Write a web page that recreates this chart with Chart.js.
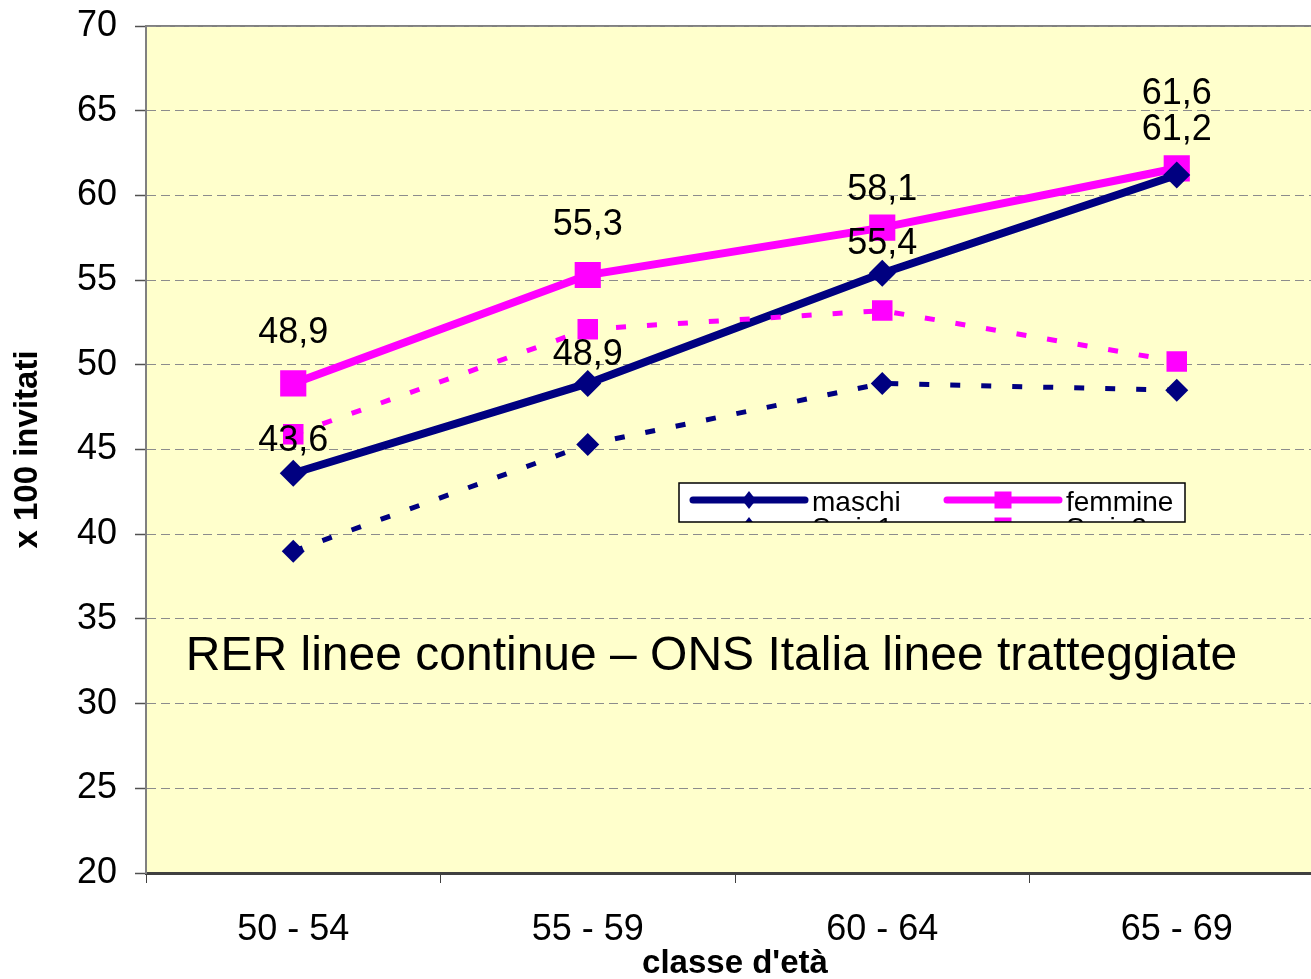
<!DOCTYPE html>
<html>
<head>
<meta charset="utf-8">
<script src="https://cdn.jsdelivr.net/npm/chart.js@4.4.1/dist/chart.umd.min.js"></script>
<style>
html, body { margin: 0; padding: 0; overflow: hidden; background: #ffffff; width: 1311px; height: 979px; }
#wrap { position: absolute; left: 0; top: 0; width: 1324px; height: 979px; }
canvas { display: block; }
</style>
</head>
<body>
<div id="wrap"><canvas id="c" width="1324" height="979"></canvas></div>
<script>
// ---- data ----
const categories = ['50 - 54', '55 - 59', '60 - 64', '65 - 69'];
const maschiRER = [43.6, 48.9, 55.4, 61.2];
const femmineRER = [48.9, 55.3, 58.1, 61.6];
const maschiONS = [39.0, 45.3, 48.9, 48.5];
const femmineONS = [45.9, 52.1, 53.2, 50.2];
const seriesNames = ['maschi', 'femmine', 'Serie1', 'Serie2'];
const yMin = 20, yMax = 70, yStep = 5;
const xTitle = "classe d'età";
const yTitle = 'x 100 invitati';
const noteText = 'RER linee continue \u2013 ONS Italia linee tratteggiate';

const FONT = '"Liberation Sans", Arial, sans-serif';
const NAVY = '#000080';
const MAGENTA = '#FF00FF';

const fmt = v => v.toFixed(1).replace('.', ',');

// plot background and frame
const bgPlugin = {
  id: 'bg',
  beforeDraw(chart) {
    const {ctx, chartArea: a} = chart;
    ctx.save();
    ctx.fillStyle = '#FFFFCC';
    ctx.fillRect(a.left, a.top, a.right - a.left, a.bottom - a.top);
    ctx.strokeStyle = '#808080';
    ctx.lineWidth = 2;
    ctx.beginPath();
    ctx.moveTo(a.left, a.top);
    ctx.lineTo(a.right, a.top);
    ctx.stroke();
    ctx.restore();
  }
};

// note text inside the plot
const notePlugin = {
  id: 'note',
  beforeDatasetsDraw(chart, args, opts) {
    const {ctx, chartArea: a, scales} = chart;
    ctx.save();
    ctx.font = '48px ' + FONT;
    ctx.fillStyle = '#000';
    ctx.textAlign = 'center';
    ctx.textBaseline = 'middle';
    const x = a.left + (a.right - a.left) * opts.xFrac;
    const y = scales.y.getPixelForValue(opts.yValue);
    ctx.fillText(opts.text, x, y);
    ctx.restore();
  }
};

// value labels above the solid series
const labelPlugin = {
  id: 'vlabels',
  afterDatasetsDraw(chart, args, opts) {
    const {ctx} = chart;
    ctx.save();
    ctx.font = '36px ' + FONT;
    ctx.fillStyle = '#000';
    ctx.textAlign = 'center';
    ctx.textBaseline = 'middle';
    opts.items.forEach(item => {
      const meta = chart.getDatasetMeta(item.dataset);
      const data = chart.data.datasets[item.dataset].data;
      meta.data.forEach((pt, i) => {
        ctx.fillText(fmt(data[i]), pt.x, pt.y - item.offsets[i]);
      });
    });
    ctx.restore();
  }
};

// Excel-like legend box (second row clipped by the box)
const legendPlugin = {
  id: 'xlLegend',
  afterDatasetsDraw(chart, args, opts) {
    const {ctx} = chart;
    const b = opts.box;
    ctx.save();
    ctx.fillStyle = '#ffffff';
    ctx.fillRect(b.x, b.y, b.w, b.h);
    ctx.beginPath();
    ctx.rect(b.x, b.y, b.w, b.h);
    ctx.clip();
    ctx.font = '28px ' + FONT;
    ctx.fillStyle = '#000';
    ctx.textBaseline = 'alphabetic';
    const ds = chart.data.datasets;
    const order = opts.order;
    order.forEach((dsIndex, k) => {
      const d = ds[dsIndex];
      const col = k % 2, row = Math.floor(k / 2);
      const x0 = b.x + 14 + col * 254;
      const yc = b.y + 17 + row * 26;
      ctx.save();
      ctx.strokeStyle = d.borderColor;
      ctx.lineWidth = 7;
      ctx.lineCap = 'round';
      ctx.setLineDash(d.borderDash || []);
      ctx.beginPath();
      ctx.moveTo(x0, yc);
      ctx.lineTo(x0 + 112, yc);
      ctx.stroke();
      ctx.fillStyle = d.borderColor;
      const mx = x0 + 56;
      if (d.pointStyle === 'rectRot') {
        ctx.beginPath();
        ctx.moveTo(mx, yc - 9);
        ctx.lineTo(mx + 7, yc);
        ctx.lineTo(mx, yc + 9);
        ctx.lineTo(mx - 7, yc);
        ctx.closePath();
        ctx.fill();
      } else {
        ctx.fillRect(mx - 8.5, yc - 8.5, 17, 17);
      }
      ctx.restore();
      ctx.fillText(d.label, x0 + 119, yc + 11);
    });
    ctx.restore();
    ctx.save();
    ctx.strokeStyle = '#000';
    ctx.lineWidth = 1.5;
    ctx.strokeRect(b.x, b.y, b.w, b.h);
    ctx.restore();
  }
};

Chart.defaults.font.family = FONT;
Chart.defaults.color = '#000';

new Chart(document.getElementById('c'), {
  type: 'line',
  data: {
    labels: categories,
    datasets: [
      {
        label: seriesNames[2], data: maschiONS,
        borderColor: NAVY, backgroundColor: NAVY,
        borderWidth: 5, borderDash: [10, 21],
        pointStyle: 'rectRot', pointRadius: 11.5, pointBorderWidth: 0,
        pointBackgroundColor: NAVY, tension: 0
      },
      {
        label: seriesNames[3], data: femmineONS,
        borderColor: MAGENTA, backgroundColor: MAGENTA,
        borderWidth: 5, borderDash: [10, 21],
        pointStyle: 'rect', pointRadius: 14.5, pointBorderWidth: 0,
        pointBackgroundColor: MAGENTA, tension: 0
      },
      {
        label: seriesNames[0], data: maschiRER,
        borderColor: NAVY, backgroundColor: NAVY,
        borderWidth: 8,
        pointStyle: 'rectRot', pointRadius: 13.5, pointBorderWidth: 0,
        pointBackgroundColor: NAVY, tension: 0
      },
      {
        label: seriesNames[1], data: femmineRER,
        borderColor: MAGENTA, backgroundColor: MAGENTA,
        borderWidth: 8,
        pointStyle: 'rect', pointRadius: 18.5, pointBorderWidth: 0,
        pointBackgroundColor: MAGENTA, tension: 0
      }
    ]
  },
  options: {
    responsive: false,
    animation: false,
    devicePixelRatio: 1,
    layout: { autoPadding: false, padding: { left: 0, right: 0, top: 26, bottom: 0 } },
    plugins: {
      legend: { display: false },
      tooltip: { enabled: false },
      note: { text: noteText, xFrac: 0.48, yValue: 32.75 },
      vlabels: {
        items: [
          { dataset: 2, offsets: [32, 28, 29, 45] },
          { dataset: 3, offsets: [50, 50, 38, 74] }
        ]
      },
      xlLegend: {
        box: { x: 679, y: 483, w: 506, h: 39 },
        order: [2, 3, 0, 1]
      }
    },
    scales: {
      x: {
        type: 'category',
        offset: true,
        afterFit(scale) {
          scale.height = 106;
          scale.paddingLeft = 0; scale.paddingRight = 0;
          scale.paddingTop = 0; scale.paddingBottom = 0;
        },
        grid: {
          display: true, drawOnChartArea: false, drawTicks: true,
          offset: true, tickLength: 10, color: '#404040', tickColor: '#404040', tickWidth: 1
        },
        border: { display: true, color: '#404040', width: 3 },
        ticks: { font: { size: 36 }, color: '#000', padding: 25, maxRotation: 0, autoSkip: false },
        title: {
          display: true, text: xTitle, color: '#000',
          font: { size: 33, weight: 'bold', lineHeight: 0.9 },
          padding: { top: 0, bottom: 0 }
        }
      },
      y: {
        min: yMin, max: yMax,
        afterFit(scale) {
          scale.width = 146;
          scale.paddingTop = 0; scale.paddingBottom = 0;
          scale.paddingLeft = 0; scale.paddingRight = 0;
        },
        ticks: { stepSize: yStep, font: { size: 36 }, color: '#000', padding: 18 },
        grid: {
          color: '#8c8c8c', lineWidth: 1, tickLength: 11,
          tickColor: '#505050', tickWidth: 1.5, tickBorderDash: []
        },
        border: { display: true, color: '#808080', width: 2, dash: [9, 5] },
        title: {
          display: true, text: yTitle, color: '#000',
          font: { size: 33, weight: 'bold', lineHeight: 1.2 },
          padding: { top: 8, bottom: 0 }
        }
      }
    }
  },
  plugins: [bgPlugin, notePlugin, labelPlugin, legendPlugin]
});
</script>
</body>
</html>
